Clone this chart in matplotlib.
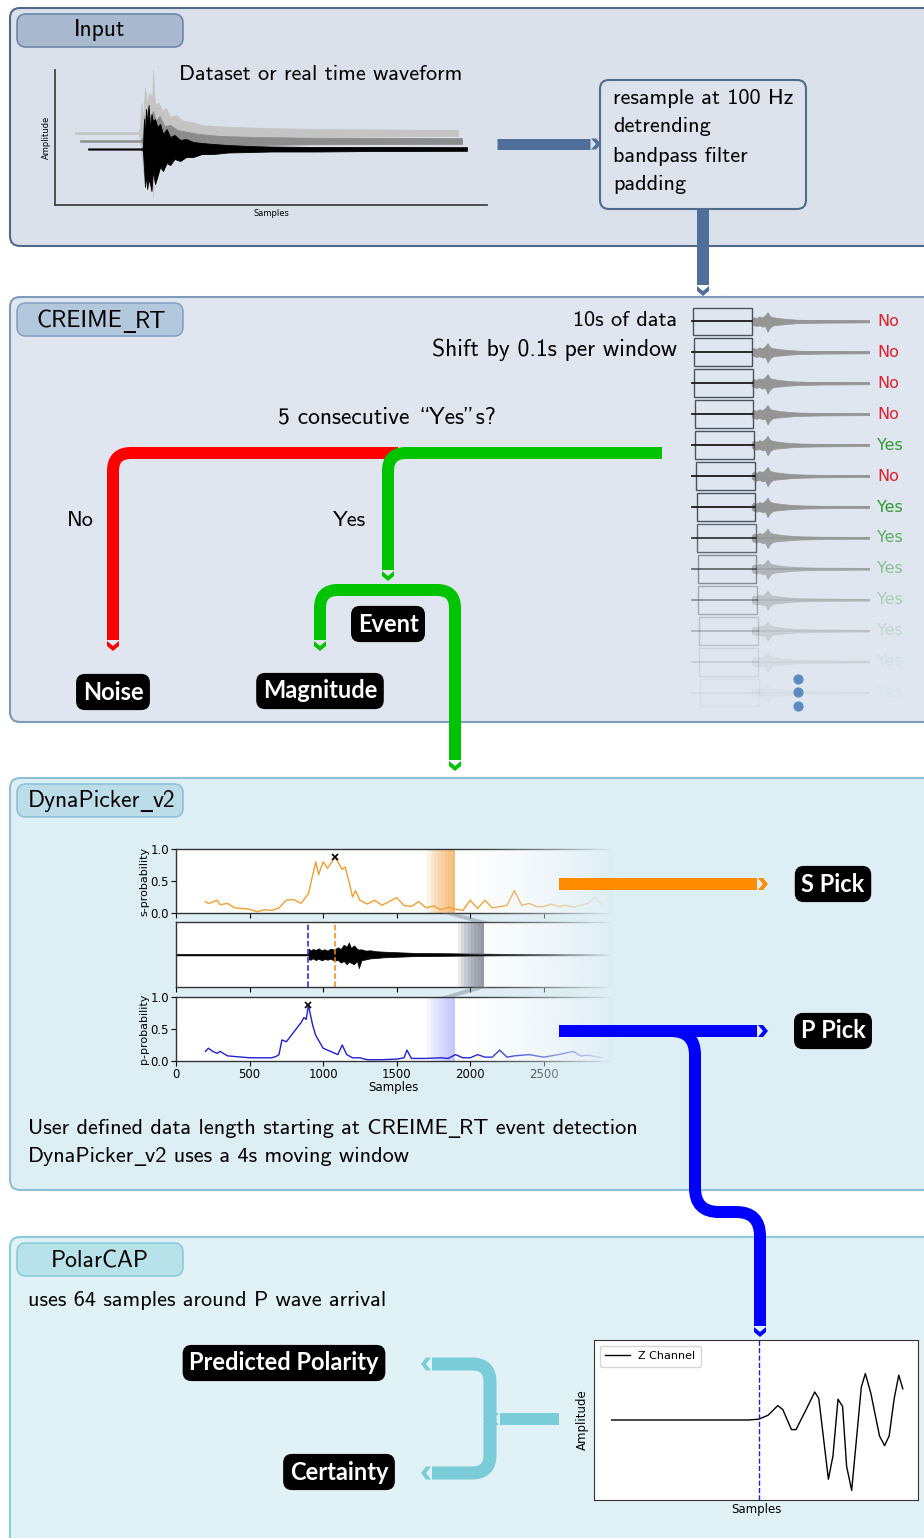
import numpy as np
import matplotlib.pyplot as plt
from matplotlib.patches import FancyBboxPatch, PathPatch, Polygon, Rectangle
from matplotlib.path import Path
from matplotlib.colors import to_rgb

W, H = 924, 1538
CM = ['cmss10', 'DejaVu Sans']
BOLD = ['Lato', 'DejaVu Sans']

# ---------------- data ----------------
# Input panel: three raw traces, envelope around a baseline (counts)
raw_base = [72, 64, 56]
raw_colors = ['#c4c4c4', '#8c8c8c', '#000000']
raw_t = [
    [139, 580, 590, 600, 612, 625, 640, 655, 668, 675, 681, 690, 700, 720, 745, 770, 800, 840,
     890, 950, 1020, 1100, 1250, 1450, 1800, 2300, 2799],
    [174, 600, 611, 620, 632, 645, 660, 680, 700, 725, 760, 800, 850, 920, 1000, 1150, 1400,
     1800, 2826],
    [230, 600, 611, 618, 625, 632, 640, 650, 660, 670, 680, 695, 710, 730, 750, 775, 800, 830,
     870, 910, 960, 1020, 1100, 1200, 1350, 1500, 1800, 2200, 2861],
]
raw_up = [
    [0.8, 0.8, 5, 30, 15, 45, 30, 40, 38, 30, 63, 35, 28, 30, 22, 25, 16, 18,
     12, 11, 8, 7, 6, 5, 4, 3.5, 3],
    [0.7, 0.7, 4, 25, 18, 33, 22, 30, 20, 25, 15, 16, 11, 9, 7, 5, 4,
     3.2, 2.8],
    [0.6, 0.6, 2, 30, 12, 40, 25, 44, 20, 35, 28, 30, 22, 25, 15, 20, 12, 14,
     9, 10, 7, 6, 5, 4, 3, 2.5, 2, 2, 1.8],
]
raw_dn = [
    [0.8, 0.8, 5, 20, 40, 30, 50, 25, 15, 30, 64, 30, 35, 22, 26, 18, 20, 12,
     14, 9, 9, 6, 5, 4.5, 4, 3.5, 3],
    [0.7, 0.7, 4, 18, 32, 22, 35, 25, 28, 16, 20, 12, 13, 8, 7, 5, 4,
     3.2, 2.8],
    [0.6, 0.6, 2, 20, 38, 25, 40, 30, 35, 42, 22, 35, 28, 18, 22, 14, 16, 10,
     12, 8, 8, 5, 5, 3.5, 3, 2.5, 2.5, 2, 1.8],
]
prep_steps = ['resample at 100 Hz', 'detrending', 'bandpass filter', 'padding']

# CREIME_RT sliding windows
win_labels = ['No', 'No', 'No', 'No', 'Yes', 'No', 'Yes', 'Yes', 'Yes', 'Yes', 'Yes', 'Yes', 'Yes']
win_alpha = [1, 1, 1, 1, 1, 1, 1, 0.85, 0.6, 0.4, 0.25, 0.12, 0.05]
lab_alpha = [1, 1, 1, 1, 1, 1, 1, 0.75, 0.5, 0.32, 0.18, 0.08, 0.03]
win_len, win_shift = 10.0, 0.1
win_env_t = [10.0, 10.3, 10.8, 11.3, 11.8, 12.3, 12.7, 13.1, 13.6, 14.2, 15, 16, 17.5, 19, 22, 26, 30]
win_env_up = [.08, .14, .11, .16, .13, .20, .30, .17, .14, .12, .10, .08, .06, .05, .04, .035, .03]
win_env_dn = [.08, .12, .15, .12, .17, .15, .33, .20, .13, .11, .10, .08, .06, .05, .04, .035, .03]

# DynaPicker_v2
s_samples = [200, 220, 250, 280, 300, 350, 400, 450, 500, 550, 600, 650, 700, 750, 800,
             850, 900, 920, 950, 970, 1000, 1030, 1060, 1080, 1100, 1130, 1150, 1180, 1200, 1220,
             1250, 1300, 1350, 1400, 1450, 1500, 1550, 1600, 1650, 1700, 1750, 1800, 1850, 1900, 1950,
             2000, 2050, 2100, 2150, 2200, 2250, 2300, 2350, 2400, 2450, 2500, 2550, 2600, 2650, 2700,
             2750, 2800, 2850, 2900]
s_prob = [.18, .15, .17, .20, .13, .15, .08, .07, .06, .02, .05, .04, .08, .20, .21,
          .15, .30, .50, .80, .60, .80, .70, .80, .87, .80, .68, .72, .45, .25, .35,
          .20, .14, .20, .12, .18, .24, .12, .10, .18, .08, .11, .05, .09, .06, .04,
          .20, .07, .20, .08, .10, .12, .35, .12, .15, .10, .10, .14, .10, .12, .09,
          .12, .15, .25, .12]
p_samples = [200, 220, 250, 280, 300, 350, 400, 450, 500, 550, 600, 650, 680, 700, 720,
             750, 800, 850, 870, 885, 900, 930, 950, 1000, 1050, 1100, 1130, 1160, 1200, 1250,
             1300, 1400, 1500, 1550, 1570, 1600, 1700, 1800, 1850, 1900, 1950, 2000, 2050, 2100, 2150,
             2200, 2250, 2300, 2400, 2500, 2600, 2700, 2750, 2800, 2900]
p_prob = [.15, .20, .15, .12, .15, .08, .07, .06, .05, .05, .05, .05, .07, .10, .33,
          .30, .45, .60, .68, .65, .87, .55, .40, .20, .15, .10, .25, .10, .05, .05,
          .02, .02, .03, .05, .17, .04, .04, .05, .04, .10, .05, .05, .10, .06, .06,
          .17, .06, .08, .10, .06, .10, .15, .08, .09, .05]
p_pick, s_pick = 900, 1080
wf_t = [0, 900, 903, 915, 930, 950, 970, 990, 1010, 1030, 1050, 1075, 1100, 1120, 1140, 1160,
        1175, 1190, 1210, 1230, 1243, 1260, 1290, 1320, 1360, 1400, 1450, 1500, 1560, 1620, 1700,
        1800, 1900, 2000, 2100, 2250, 2400, 2600, 2950]
wf_up = [.01, .01, .18, .12, .17, .14, .19, .13, .16, .12, .18, .15, .22, .17, .30, .24, .37, .20,
         .28, .18, .15, .16, .12, .13, .10, .09, .08, .07, .06, .05, .045, .04, .035, .03, .025,
         .02, .02, .015, .015]
wf_dn = [.01, .01, .15, .16, .12, .17, .13, .18, .14, .16, .13, .19, .17, .25, .20, .30, .22, .26,
         .30, .20, .42, .18, .15, .12, .11, .09, .08, .07, .06, .05, .045, .04, .035, .03, .025,
         .02, .02, .015, .015]
prob_win = (1709, 1898)
wave_win = (1914, 2095)
dp_ticks = [0, 500, 1000, 1500, 2000, 2500]

# PolarCAP: 64 samples around P
pc_x = [3, 10, 20, 30, 32.0, 33.9, 35.8, 36.8, 38.5, 39.4, 41.4, 43.1, 43.9, 45.8,
        46.7, 47.7, 48.6, 49.4, 50.4, 52.3, 53.1, 54.2, 55.9, 56.9, 57.8, 58.8, 59.7, 60.5]
pc_y = [0, 0, 0, 0, .01, .06, .18, .13, -.12, -.12, .13, .35, .27, -.74,
        -.45, .26, .17, -.58, -.88, .41, .58, .33, -.20, -.32, -.20, .27, .56, .39]
pc_pick = 32

# ---------------- figure ----------------
fig = plt.figure(figsize=(W / 100, H / 100), dpi=100)
base = fig.add_axes([0, 0, 1, 1], zorder=0)
ov = fig.add_axes([0, 0, 1, 1], zorder=5)
ov.patch.set_alpha(0)


def px_axes(x0, y0, x1, y1, z=2):
    return fig.add_axes([x0 / W, 1 - y1 / H, (x1 - x0) / W, (y1 - y0) / H], zorder=z)


def px(v):
    return v * 0.72


def head(ax, p, d, w, color):
    d = np.asarray(d, float) / np.hypot(*d)
    n = np.array([-d[1], d[0]])
    shape = [(1, -w / 2), (6, -w / 2), (11, 0), (6, w / 2), (1, w / 2), (6, 0)]
    pts = [np.asarray(p) + u * d + v * n for u, v in shape]
    ax.add_patch(Polygon(pts, closed=True, fc=color, ec='none', zorder=6))


def pipe(ax, pts, color, w, r=18, arrow=True):
    verts, codes = [pts[0]], [Path.MOVETO]
    for i in range(1, len(pts) - 1):
        p0, p1, p2 = (np.asarray(q, float) for q in pts[i - 1:i + 2])
        d1 = (p1 - p0) / np.hypot(*(p1 - p0))
        d2 = (p2 - p1) / np.hypot(*(p2 - p1))
        verts += [tuple(p1 - d1 * r), tuple(p1), tuple(p1 + d2 * r)]
        codes += [Path.LINETO, Path.CURVE3, Path.CURVE3]
    verts.append(pts[-1])
    codes.append(Path.LINETO)
    ax.add_patch(PathPatch(Path(verts, codes), fill=False, ec=color, lw=px(w),
                           capstyle='butt', joinstyle='round', zorder=5))
    if arrow:
        a, b = np.asarray(pts[-2], float), np.asarray(pts[-1], float)
        head(ax, b, b - a, w, color)


def chain_text(ax, x, y, parts, size, **kw):
    t = ax.text(x, y, parts[0], family=CM, fontsize=size, ha='left', va='center', **kw)
    for s in parts[1:]:
        fam = ['DejaVu Sans'] if s == '_' else CM
        t = ax.annotate(s, xy=(1, 0), xycoords=t, xytext=(0, 0), textcoords='offset points',
                        family=fam, fontsize=size, ha='left', va='bottom', **kw)
    return t


def label(ax, x, y, s, size=17):
    ax.text(x, y, s, family=BOLD, weight='bold', fontsize=size, color='white',
            ha='center', va='center', zorder=7,
            bbox=dict(boxstyle='round,pad=0.25,rounding_size=0.35', fc='black', ec='black'))


# panels: (top, height, fill, edge, tag fill, tag edge)
panels = [
    (8, 238, '#dbe1ea', '#52698a', '#a9bad0', '#6d87a8'),
    (297, 425, '#dfe6ef', '#7e9ab9', '#b4c8dd', '#86a3c2'),
    (778, 412, '#deeef5', '#8ec1d6', '#bcdcea', '#8ec1d6'),
    (1237, 330, '#e0f2f6', '#8accd9', '#b8e2ea', '#8accd9'),
]
for top, h, fc, ec, tfc, tec in panels:
    base.add_patch(FancyBboxPatch((10, top), 960, h, boxstyle='round,pad=0,rounding_size=10',
                                  fc=fc, ec=ec, lw=1.5))
    base.add_patch(FancyBboxPatch((17, top + 6), 166, 33, boxstyle='round,pad=0,rounding_size=9',
                                  fc=tfc, ec=tec, lw=1.2))

ov.text(100, 30, 'Input', family=CM, fontsize=17, ha='center', va='center')
chain_text(ov, 37, 322, ['CREIME', '_', 'RT'], 17)
chain_text(ov, 28, 801, ['DynaPicker', '_', 'v2'], 17)
ov.text(100, 1261, 'PolarCAP', family=CM, fontsize=17, ha='center', va='center')

# ---- Input panel ----
inp = px_axes(55, 70, 487, 205)
inp.patch.set_alpha(0)
for k in range(3):
    t = np.array(raw_t[k], float)
    b = raw_base[k]
    inp.fill_between(t, b + np.array(raw_up[k]), b - np.array(raw_dn[k]),
                     color=raw_colors[k], lw=0.6, ec=raw_colors[k])
inp.set_xlim(0, 3000)
inp.set_ylim(0, 135)
inp.set_xticks([])
inp.set_yticks([])
for s in ('top', 'right'):
    inp.spines[s].set_visible(False)
for s in ('left', 'bottom'):
    inp.spines[s].set_color('#444444')
    inp.spines[s].set_linewidth(1.3)
inp.set_xlabel('Samples', fontsize=6, labelpad=3)
inp.set_ylabel('Amplitude', fontsize=6, labelpad=3)

ov.text(179, 75, 'Dataset or real time waveform', family=CM, fontsize=16, ha='left', va='center')
base.add_patch(FancyBboxPatch((600, 80), 206, 129, boxstyle='round,pad=0,rounding_size=9',
                              fc='#dde3ec', ec='#4f6b8f', lw=1.5))
for i, s in enumerate(prep_steps):
    ov.text(613, 98 + 29 * i, s, family=CM, fontsize=16, ha='left', va='center')
steel = '#4d6f99'
pipe(ov, [(497, 144), (590, 144)], steel, 11)
pipe(ov, [(703, 210), (703, 285)], steel, 12)

# ---- CREIME_RT ----
ov.text(677, 321, '10s of data', family=CM, fontsize=16, ha='right', va='center')
ov.text(677, 350, 'Shift by 0.1s per window', family=CM, fontsize=17, ha='right', va='center')
ov.text(387, 418, '5 consecutive \\Yes"s?', family=CM, fontsize=17, ha='center', va='center')
ov.text(80, 521, 'No', family=CM, fontsize=16, ha='center', va='center')
ov.text(350, 521, 'Yes', family=CM, fontsize=16, ha='center', va='center')

red, green = '#ff0000', '#00c400'
pipe(ov, [(398, 453), (113, 453), (113, 640)], red, 12)
pipe(ov, [(662, 453), (388, 453), (388, 570)], green, 12)
pipe(ov, [(395, 590), (320, 590), (320, 640)], green, 12)
pipe(ov, [(380, 590), (455, 590), (455, 760)], green, 12)
label(ov, 113, 692, 'Noise')
label(ov, 320, 691, 'Magnitude')
label(ov, 388, 624, 'Event')

st = px_axes(685, 306, 875, 708)
st.patch.set_alpha(0)
st.set_xlim(-8 / 5.87, 31)
st.set_ylim(12.5, -0.5)
st.axis('off')
et = np.array(win_env_t)
for i, lab in enumerate(win_labels):
    a = win_alpha[i]
    x0 = i * win_shift
    st.fill_between(et, i - np.array(win_env_up), i + np.array(win_env_dn),
                    color='#959595', lw=0.5, alpha=a)
    st.plot([x0 + win_len, 30], [i, i], color='#959595', lw=1.2, alpha=a)
    st.plot([-0.15, x0 + win_len], [i, i], color='#1a1a1a', lw=1.3, alpha=a)
    st.add_patch(Rectangle((x0, i - 0.45), win_len, 0.9, fill=False, ec='#4a5260', lw=1.0, alpha=a))
    st.text(31.4, i, lab, color='#e0202a' if lab == 'No' else '#2e9a2e', fontsize=11.5,
            ha='left', va='center', alpha=lab_alpha[i], clip_on=False)
ov.scatter([798, 798, 798], [679, 692, 706], s=40, color='#5b8cc0', zorder=6)

# ---- DynaPicker_v2 ----
xr = 2950
sa = px_axes(176, 849, 610, 913)
wa = px_axes(176, 922, 610, 987)
pa = px_axes(176, 997, 610, 1061)
sa.plot(s_samples, s_prob, color='#f0a030', lw=1.0)
sa.plot([s_pick], [0.87], 'kx', ms=4, mew=1.2)
pa.plot(p_samples, p_prob, color='#2020d0', lw=1.0)
pa.plot([p_pick], [0.87], 'kx', ms=4, mew=1.2)
wa.plot([0, xr], [0, 0], color='black', lw=1.0)
wa.fill_between(wf_t, -np.array(wf_dn), wf_up, color='black', lw=0.5)
wa.axvline(p_pick, color='#2020d0', ls='--', lw=1.1)
wa.axvline(s_pick, color='#f08a10', ls='--', lw=1.1)
for k in range(8):
    f = k / 8
    sa.axvspan(prob_win[0] + f * (prob_win[1] - prob_win[0]), prob_win[1], color='#f5a040', alpha=0.13, lw=0)
    pa.axvspan(prob_win[0] + f * (prob_win[1] - prob_win[0]), prob_win[1], color='#9a9aff', alpha=0.09, lw=0)
    wa.axvspan(wave_win[0] + f * (wave_win[1] - wave_win[0]), wave_win[1], color='#5a6272', alpha=0.13, lw=0)
for a in (sa, wa, pa):
    a.set_xlim(0, xr)
    a.set_xticks(dp_ticks)
    a.tick_params(labelsize=8.5, length=3.5, width=0.8, pad=1.5)
    for s in a.spines.values():
        s.set_color('#333333')
        s.set_linewidth(1.0)
for a, lab in ((sa, 's-probability'), (pa, 'p-probability')):
    a.set_ylim(0, 1)
    a.set_yticks([0, 0.5, 1.0])
    a.set_yticklabels(['0.0', '0.5', '1.0'])
    a.set_ylabel(lab, fontsize=8, labelpad=1)
sa.set_xticklabels([])
wa.set_xticklabels([])
wa.set_ylim(-1, 1)
wa.set_yticks([])
pa.set_xlabel('Samples', fontsize=8.5, labelpad=0)

gx0, gx1 = prob_win[1] * 434 / xr + 176 - 10, 613
ov.add_patch(Polygon([(gx0 - 4, 913), (gx0 + 9, 913), (489, 922), (474, 922)], fc='#7a8090', alpha=0.45, ec='none'))
ov.add_patch(Polygon([(474, 987), (489, 987), (gx0 + 9, 997), (gx0 - 4, 997)], fc='#7a8090', alpha=0.45, ec='none'))
grad = np.zeros((1, 256, 4))
grad[..., :3] = to_rgb('#deeef5')
grad[..., 3] = np.linspace(0, 1, 256) ** 1.3
ov.imshow(grad, extent=(460, gx1, 1080, 840), aspect='auto', zorder=1, interpolation='bilinear')

orange, blue = '#ff8c00', '#0000ff'
pipe(ov, [(559, 884), (757, 884)], orange, 12)
pipe(ov, [(559, 1031), (757, 1031)], blue, 12)
pipe(ov, [(671, 1031), (695, 1031), (695, 1212), (760, 1212), (760, 1326)], blue, 12, r=24)
label(ov, 833, 884, 'S Pick')
label(ov, 833, 1031, 'P Pick')
chain_text(ov, 28, 1129, ['User defined data length starting at CREIME', '_', 'RT event detection'], 16)
chain_text(ov, 28, 1157, ['DynaPicker', '_', 'v2 uses a 4s moving window'], 16)

# ---- PolarCAP ----
ov.text(28, 1301, 'uses 64 samples around P wave arrival', family=CM, fontsize=16, ha='left', va='center')
pc = px_axes(594, 1340, 918, 1500)
pc.plot(pc_x, pc_y, color='black', lw=1.0, label='Z Channel')
pc.axvline(pc_pick, color='#2020d0', ls='--', lw=1.0)
pc.set_xlim(-0.5, 63.5)
pc.set_ylim(-1, 1)
pc.set_xticks([])
pc.set_yticks([])
pc.set_xlabel('Samples', fontsize=8.5, labelpad=2)
pc.set_ylabel('Amplitude', fontsize=8.5, labelpad=4)
pc.legend(loc='upper left', fontsize=8, handlelength=2.2, borderpad=0.5)
for s in pc.spines.values():
    s.set_color('#333333')

cyan = '#7accd8'
pipe(ov, [(559, 1419), (500, 1419)], cyan, 12)
pipe(ov, [(490, 1420), (490, 1364), (432, 1364)], cyan, 13)
pipe(ov, [(490, 1418), (490, 1473), (432, 1473)], cyan, 13)
label(ov, 284, 1363, 'Predicted Polarity')
label(ov, 339, 1472, 'Certainty')

for a in (base, ov):
    a.set_xlim(0, W)
    a.set_ylim(H, 0)
    a.axis('off')

fig.savefig('out.png', dpi=100)
